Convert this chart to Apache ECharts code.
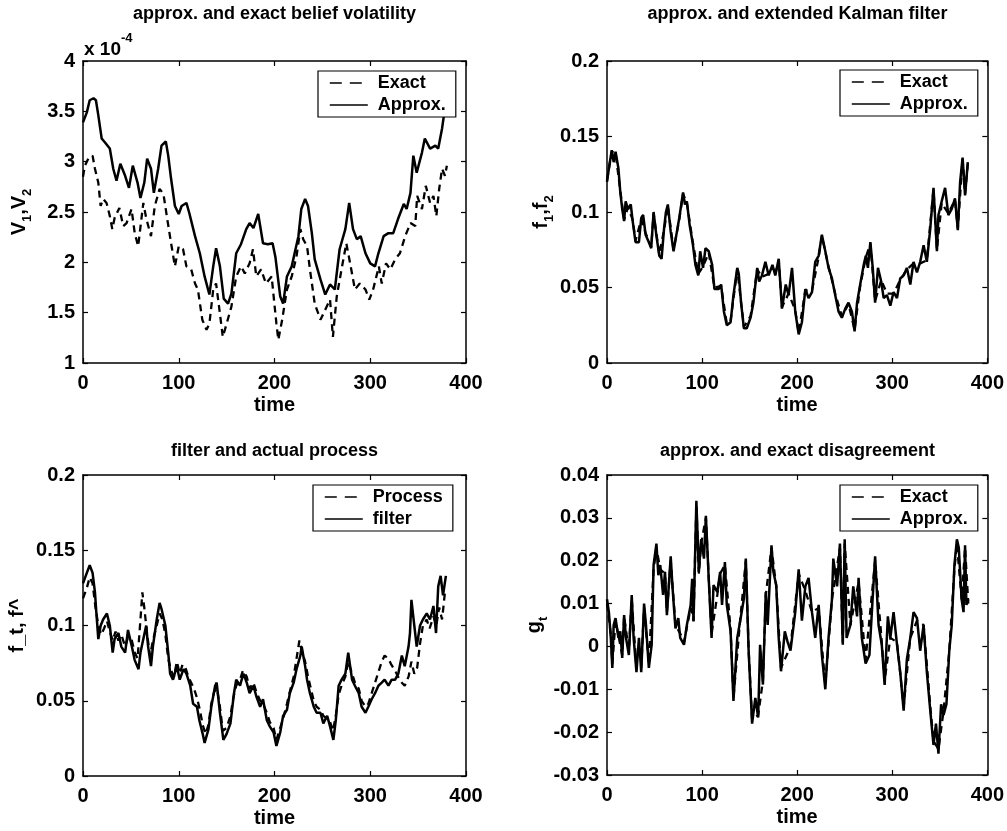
<!DOCTYPE html>
<html><head><meta charset="utf-8">
<script src="https://cdn.jsdelivr.net/npm/echarts/dist/echarts.min.js"></script>
<style>html,body{margin:0;padding:0;background:#fff}#c{width:1007px;height:831px}</style>
</head><body><div id="c"></div>
<script>
// ---------- DATA (time, value) ----------
const timeTicks = [0, 100, 200, 300, 400];
// Panel 1: belief volatility, values in units of 1e-4
const volApprox = [[0,3.39],[4,3.49],[7,3.61],[11,3.63],[13.5,3.61],[16,3.46],[19.5,3.23],[23,3.19],[28,3.13],[31.6,2.93],[35,2.81],[39,2.98],[44,2.86],[48,2.74],[52,2.96],[57,2.79],[60,2.64],[64,2.79],[67,3.03],[71,2.93],[74,2.69],[78.5,2.93],[82,3.16],[86.5,3.20],[89,3.06],[92,2.83],[96,2.56],[100,2.48],[103,2.56],[108,2.59],[111,2.49],[117,2.26],[122,2.09],[127,1.86],[132,1.68],[136,1.96],[139,2.14],[143,1.96],[147,1.64],[151.5,1.59],[155,1.69],[160,2.09],[165,2.18],[170.5,2.33],[174,2.39],[178,2.34],[183,2.48],[188,2.19],[193,2.18],[198,2.19],[201,2.05],[206,1.66],[209,1.59],[213,1.86],[218,1.96],[221,2.09],[225,2.26],[228,2.53],[232,2.63],[235,2.56],[239,2.29],[242,2.03],[248,1.83],[253,1.68],[258,1.78],[263,1.73],[268,2.13],[274,2.33],[278,2.59],[282,2.33],[286,2.23],[290,2.26],[295,2.09],[300,1.99],[305,1.96],[308.5,2.09],[314,2.26],[319,2.29],[324,2.29],[329,2.43],[335,2.58],[338,2.53],[342,2.69],[345,3.06],[348.5,2.89],[354,3.09],[357,3.23],[362.5,3.13],[368,3.16],[371,3.13],[375,3.33],[378,3.53],[380,3.60]];
const volExact = [[0,2.85],[2,2.96],[5.5,3.03],[10,3.06],[12.5,2.93],[16,2.79],[18.4,2.56],[21,2.63],[24.6,2.59],[28,2.46],[30.6,2.33],[33,2.44],[38,2.54],[42,2.36],[45.5,2.39],[50.7,2.53],[54,2.29],[57.6,2.16],[63,2.59],[66,2.44],[71,2.26],[75,2.56],[80,2.73],[84,2.68],[88,2.43],[92,2.19],[96,1.96],[100,2.16],[104.5,2.13],[108,1.96],[113,1.93],[117,1.79],[120,1.73],[124.6,1.43],[129,1.33],[132,1.39],[136,1.73],[139,1.79],[143,1.49],[146,1.26],[150,1.39],[155,1.56],[160,1.86],[165,1.96],[169,1.89],[174,1.99],[177.5,2.13],[181,1.86],[186,1.93],[191,1.79],[197,1.86],[202,1.39],[204,1.23],[208,1.43],[213,1.73],[218,1.86],[223,2.06],[227,2.33],[230,2.23],[234,2.16],[237,1.93],[242,1.59],[248,1.43],[253,1.53],[258,1.63],[261,1.26],[265,1.66],[270,1.93],[275,2.19],[279,1.99],[284,1.73],[289,1.79],[295,1.73],[299,1.63],[303,1.73],[309,1.96],[312,1.79],[316.5,1.99],[321,1.93],[326,2.03],[331,2.09],[336.5,2.26],[342,2.39],[347,2.36],[349,2.66],[354,2.53],[358,2.76],[362.5,2.59],[366,2.66],[369,2.46],[372,2.73],[375,2.93],[378,2.86],[380,2.96]];
// Panel 2: approx. and extended Kalman filter
const kalApprox = [[0,0.120],[2,0.129],[5,0.141],[7,0.133],[9,0.140],[12,0.129],[14,0.113],[16,0.102],[18,0.094],[19.6,0.107],[22,0.102],[25,0.105],[27,0.094],[30,0.080],[33.6,0.080],[36,0.096],[38,0.098],[40.6,0.085],[44,0.080],[46.5,0.076],[49,0.100],[51.8,0.085],[55,0.071],[57.4,0.069],[60,0.089],[62,0.100],[64,0.105],[67,0.087],[70,0.074],[73,0.085],[76,0.096],[80,0.113],[82,0.105],[84,0.107],[87,0.091],[90,0.080],[93,0.065],[96,0.058],[98,0.074],[101,0.063],[103.6,0.076],[107,0.074],[110.6,0.065],[113,0.049],[117.6,0.049],[120,0.052],[123,0.034],[126,0.025],[130,0.027],[133,0.045],[137,0.063],[138.6,0.059],[141,0.040],[144,0.023],[147,0.023],[151,0.030],[154,0.040],[158,0.063],[160,0.054],[163,0.058],[166.6,0.067],[170,0.058],[174,0.065],[177,0.058],[180.6,0.069],[184,0.036],[188,0.052],[191,0.045],[194.6,0.063],[198,0.034],[201.6,0.019],[205,0.027],[208.6,0.049],[212,0.043],[215.6,0.047],[219,0.067],[222.6,0.071],[226,0.085],[229.6,0.074],[233,0.063],[236.6,0.056],[240,0.045],[243.6,0.034],[247,0.030],[250.6,0.036],[254,0.040],[257.6,0.034],[260.4,0.021],[263,0.040],[266.3,0.052],[270,0.065],[272.2,0.071],[274.4,0.063],[277,0.080],[279.5,0.063],[282,0.040],[285,0.063],[288.4,0.054],[291,0.043],[294.4,0.045],[298,0.038],[301.4,0.047],[305,0.043],[308.4,0.056],[312,0.058],[315.4,0.063],[319,0.052],[322.4,0.067],[326,0.060],[329.4,0.067],[333,0.078],[336.4,0.067],[340,0.089],[343.4,0.116],[347,0.074],[348.6,0.098],[352,0.107],[355.6,0.116],[359,0.098],[362.6,0.102],[366,0.109],[369,0.088],[371.4,0.120],[374,0.136],[376.6,0.111],[379.5,0.133]];
const kalExact = [[0,0.121],[5,0.140],[9,0.139],[14,0.114],[18,0.095],[22,0.103],[27,0.095],[30,0.081],[36,0.095],[40.6,0.086],[46.5,0.077],[49,0.099],[55,0.072],[60,0.088],[64,0.104],[70,0.075],[76,0.095],[80,0.112],[84,0.106],[90,0.081],[96,0.059],[101,0.064],[107,0.073],[113,0.050],[120,0.051],[126,0.026],[130,0.028],[137,0.062],[144,0.024],[151,0.031],[158,0.062],[163,0.057],[170,0.059],[177,0.059],[180.6,0.068],[184,0.037],[191,0.046],[198,0.035],[201.6,0.020],[208.6,0.048],[215.6,0.048],[222.6,0.070],[226,0.084],[233,0.064],[240,0.046],[247,0.031],[254,0.039],[260.4,0.022],[266.3,0.051],[272.2,0.070],[277,0.079],[282,0.041],[288.4,0.055],[294.4,0.046],[301.4,0.046],[308.4,0.055],[315.4,0.062],[322.4,0.066],[329.4,0.066],[336.4,0.068],[343.4,0.115],[347,0.075],[352,0.106],[359,0.099],[366,0.108],[369,0.089],[374,0.135],[376.6,0.112],[379.5,0.132]];
// Panel 3: filter and actual process
const procFilter = [[0,0.128],[4,0.135],[7,0.140],[10,0.135],[12.5,0.122],[14,0.108],[16,0.091],[18.5,0.100],[21,0.104],[25,0.108],[28,0.100],[31,0.082],[33,0.091],[37,0.095],[40,0.086],[44,0.082],[47,0.097],[51,0.086],[54,0.077],[58,0.071],[60,0.082],[63,0.091],[66,0.100],[68,0.086],[71,0.073],[73,0.086],[77,0.104],[80,0.115],[82,0.111],[86,0.100],[89,0.082],[91,0.068],[94,0.064],[98,0.073],[101,0.064],[105,0.071],[108,0.068],[112,0.060],[115,0.048],[119,0.046],[121.5,0.037],[125,0.028],[127,0.022],[131,0.031],[134,0.046],[138,0.060],[139.6,0.062],[143,0.042],[146.6,0.024],[150,0.028],[154,0.035],[157.7,0.055],[160,0.064],[164,0.060],[167.5,0.068],[171,0.062],[174,0.055],[178,0.060],[181,0.053],[185,0.046],[188,0.051],[192,0.037],[195,0.033],[199,0.029],[202,0.020],[206,0.029],[209,0.040],[213,0.044],[216,0.055],[220,0.062],[223,0.071],[227,0.080],[228.4,0.086],[232,0.073],[234,0.064],[237,0.055],[241,0.046],[244,0.042],[248,0.042],[251,0.035],[255,0.040],[258,0.033],[261.5,0.024],[264,0.037],[267,0.060],[270,0.064],[274,0.068],[277,0.082],[281,0.064],[284,0.060],[288,0.055],[291,0.046],[295,0.042],[298,0.046],[301.5,0.051],[305,0.055],[308.5,0.060],[312,0.062],[315,0.064],[319,0.060],[322.4,0.064],[326,0.064],[329.3,0.068],[333,0.080],[336,0.073],[340,0.086],[341.5,0.095],[343,0.117],[346,0.100],[348.5,0.086],[352,0.100],[355,0.104],[359,0.108],[362.4,0.104],[366,0.113],[368.7,0.095],[371,0.126],[373.5,0.133],[376,0.120],[379,0.133]];
const procProcess = [[0,0.118],[4,0.125],[7,0.132],[10,0.128],[13,0.112],[16,0.100],[19,0.094],[22,0.098],[25,0.103],[28,0.096],[31,0.090],[34,0.096],[37,0.090],[40,0.094],[44,0.086],[47,0.092],[51,0.090],[54,0.082],[57,0.078],[60,0.104],[62,0.122],[64,0.112],[67,0.094],[70,0.080],[73,0.090],[77,0.100],[80,0.108],[83,0.104],[86,0.094],[89,0.078],[92,0.070],[95,0.066],[98,0.076],[101,0.068],[104,0.074],[107,0.072],[110,0.066],[113,0.062],[116,0.058],[119,0.052],[122,0.044],[125,0.034],[128,0.028],[131,0.034],[134,0.048],[137,0.056],[140,0.058],[143,0.046],[146,0.030],[150,0.032],[154,0.040],[157,0.052],[160,0.060],[164,0.064],[167,0.070],[171,0.066],[174,0.058],[178,0.062],[181,0.056],[185,0.050],[188,0.048],[192,0.042],[195,0.036],[199,0.032],[202,0.024],[206,0.032],[209,0.038],[213,0.048],[216,0.056],[220,0.066],[223,0.078],[226,0.090],[229,0.082],[232,0.076],[235,0.066],[238,0.058],[241,0.050],[244,0.046],[248,0.044],[251,0.040],[255,0.038],[258,0.036],[261,0.030],[264,0.040],[267,0.054],[270,0.060],[274,0.066],[277,0.076],[281,0.068],[284,0.062],[288,0.058],[291,0.050],[295,0.046],[298,0.048],[302,0.056],[305,0.062],[309,0.070],[312,0.076],[315,0.080],[319,0.078],[322,0.074],[326,0.070],[329,0.066],[333,0.062],[336,0.060],[340,0.066],[343,0.076],[346,0.068],[349,0.072],[352,0.088],[355,0.100],[359,0.104],[362,0.098],[366,0.106],[369,0.100],[372,0.112],[375,0.104],[378,0.122],[380,0.124]];
// Panel 4: approx. and exact disagreement
const disApprox = [[0,0.011],[2,0.008],[4,0.002],[5.6,-0.005],[7,0.005],[9,0.0066],[12,0.002],[14,0.0035],[16,-0.0027],[18,0.0073],[20,0.002],[23,-0.002],[26,0.012],[28,0.002],[31,-0.006],[33.6,0.002],[36,-0.006],[39,0.010],[41,0.005],[44,-0.005],[47,0.0004],[49,0.019],[52,0.024],[54,0.0166],[56,0.019],[59,0.012],[61,0.0174],[63,0.0073],[67,0.021],[69,0.0135],[72,0.0042],[75,0.0066],[77,0.002],[81,0.0004],[84,0.005],[88,0.0097],[89.6,0.0158],[91,0.0058],[94,0.034],[96.6,0.0174],[99,0.025],[102,0.0205],[104,0.0305],[107,0.0158],[110,0.002],[112,0.0143],[116,0.0127],[119,0.0174],[121,0.0097],[124,0.0197],[126,0.0097],[130,0.0035],[133,-0.0127],[137,0.002],[140,0.0058],[144,0.0112],[146,0.0205],[149,-0.0012],[152.6,-0.018],[156,-0.012],[159,-0.0166],[161,0.0004],[164,-0.0089],[167,0.0127],[169,0.005],[173,0.0236],[175,0.0174],[178,0.0143],[180.6,0.002],[183,-0.0058],[187,0.0035],[190,0.001],[193,-0.001],[198,0.008],[201.6,0.018],[205,0.006],[208.6,0.014],[212,0.016],[215.6,0.008],[219,0.002],[222.6,0.0097],[226,-0.002],[229.6,-0.010],[233,0.002],[236.6,0.011],[238,0.0205],[242,0.014],[245,0.024],[248,0.0004],[250,0.025],[252,0.002],[256,0.005],[259,0.014],[263,0.007],[264.6,0.016],[268,0.002],[272,-0.004],[276,-0.002],[279,0.0097],[282,0.021],[285.6,0.005],[289,0.0004],[292,-0.009],[295.4,0.007],[298,0.002],[301.4,0.008],[305,0.0004],[308.4,-0.006],[312,-0.015],[315.4,-0.003],[319,0.002],[322.4,0.008],[326,0.0066],[329.4,-0.001],[333,0.005],[336.4,-0.006],[340,-0.015],[343.4,-0.023],[346,-0.018],[348.6,-0.025],[351.4,-0.0135],[354,-0.016],[357,-0.0135],[360,-0.001],[362.6,0.005],[365.4,0.019],[368,0.025],[370,0.023],[373,0.011],[375,0.008],[376.6,0.0236],[378,0.0097],[380,0.011]];
const disExact = [[0,0.010],[4,0.003],[5.6,-0.004],[9,0.006],[16,-0.002],[18,0.007],[23,-0.001],[26,0.011],[31,-0.005],[36,-0.005],[39,0.009],[44,-0.004],[49,0.018],[52,0.023],[56,0.018],[61,0.017],[63,0.008],[67,0.020],[72,0.005],[77,0.003],[81,0.001],[88,0.009],[91,0.006],[94,0.033],[96.6,0.017],[99,0.024],[104,0.030],[107,0.016],[110,0.003],[116,0.012],[119,0.017],[124,0.019],[130,0.004],[133,-0.012],[140,0.006],[146,0.020],[149,-0.001],[152.6,-0.017],[159,-0.016],[164,-0.008],[167,0.012],[173,0.023],[178,0.014],[183,-0.005],[193,0.000],[201.6,0.017],[208.6,0.013],[215.6,0.008],[222.6,0.009],[229.6,-0.009],[236.6,0.011],[245,0.023],[248,0.001],[250,0.024],[256,0.005],[264.6,0.015],[272,-0.003],[282,0.020],[289,0.001],[292,-0.008],[298,0.002],[305,0.001],[312,-0.014],[319,0.002],[326,0.006],[333,0.005],[340,-0.014],[343.4,-0.022],[348.6,-0.024],[354,-0.015],[360,-0.001],[365.4,0.018],[368,0.024],[373,0.011],[376.6,0.023],[380,0.010]];

const panelTitles = ['approx. and exact belief volatility','approx. and extended Kalman filter','filter and actual process','approx. and exact disagreement'];
const yNames = ['{n|V}{s|1}{n|,V}{s|2}','{n|f}{s|1}{n|,f}{s|2}','{n|f_t, f^}','{n|g}{s|t}'];
const yRanges = [[1,4,0.5],[0,0.2,0.05],[0,0.2,0.05],[-0.03,0.04,0.01]];
const legendNames = [['Exact','Approx.'],['Exact','Approx.'],['Process','filter'],['Exact','Approx.']];
const panelSeries = [[volExact, volApprox],[kalExact, kalApprox],[procProcess, procFilter],[disExact, disApprox]];

// ---------- LAYOUT / STYLE ----------
const FONT = "'Liberation Sans', Arial, Helvetica, sans-serif";
const grids = [
  {left:83, top:61, width:383, height:302},
  {left:607, top:61, width:381, height:302},
  {left:83, top:475, width:383, height:301},
  {left:607, top:475, width:381, height:300}
];
const yNameGaps = [52, 54, 54, 58];
const legendPos = [{left:318, top:71},{left:840, top:70},{left:313, top:485},{left:840, top:485}];
const axisLine = {show:true, onZero:false, lineStyle:{color:'#000', width:1.5}};
const tick = {show:true, inside:true, length:5, lineStyle:{color:'#000', width:1.2}};
const lbl = {color:'#000', fontFamily:FONT, fontWeight:'bold', fontSize:20};
const noSymbol = {color:'rgba(0,0,0,0)', borderWidth:0, borderColor:'rgba(0,0,0,0)'};

const xAxis = [], yAxis = [], series = [], title = [], legend = [];
grids.forEach((g, i) => {
  xAxis.push({gridIndex:i, type:'value', position:'bottom', min:timeTicks[0], max:timeTicks[timeTicks.length-1], interval:100,
    axisLine, axisTick:tick, splitLine:{show:false}, axisLabel:Object.assign({margin:10}, lbl),
    name:'time', nameLocation:'middle', nameGap:32, nameTextStyle:Object.assign({}, lbl, {fontSize:20})});
  xAxis.push({gridIndex:i, type:'value', position:'top', min:timeTicks[0], max:timeTicks[timeTicks.length-1], interval:100,
    axisLine, axisTick:tick, splitLine:{show:false}, axisLabel:{show:false}});
  const r = yRanges[i];
  yAxis.push({gridIndex:i, type:'value', position:'left', min:r[0], max:r[1], interval:r[2],
    axisLine, axisTick:tick, splitLine:{show:false}, axisLabel:Object.assign({margin:8}, lbl),
    name:yNames[i], nameLocation:'middle', nameGap:yNameGaps[i],
    nameTextStyle:{color:'#000', rich:{
      n:{fontFamily:FONT, fontWeight:'bold', fontSize:20, color:'#000', lineHeight:22, verticalAlign:'top'},
      s:{fontFamily:FONT, fontWeight:'bold', fontSize:13, color:'#000', lineHeight:14, padding:[12,0,0,0], verticalAlign:'top'}
    }}});
  yAxis.push({gridIndex:i, type:'value', position:'right', min:r[0], max:r[1], interval:r[2],
    axisLine, axisTick:tick, splitLine:{show:false}, axisLabel:{show:false}});
  title.push({text:panelTitles[i], left:g.left + g.width/2, top:i < 2 ? 5 : 442, textAlign:'center', padding:0,
    textStyle:{color:'#000', fontFamily:FONT, fontWeight:'bold', fontSize:18}});
  const names = legendNames[i];
  legend.push({
    data:[{name:names[0], itemStyle:noSymbol, lineStyle:{type:[12,8], width:1.6}},
          {name:names[1], itemStyle:noSymbol, lineStyle:{type:'solid', width:1.6}}],
    orient:'vertical', left:legendPos[i].left, top:legendPos[i].top,
    backgroundColor:'#fff', borderColor:'#000', borderWidth:1.2, borderRadius:0, padding:[3,10,3,11],
    itemWidth:38, itemHeight:14, itemGap:4, itemStyle:noSymbol,
    textStyle:{color:'#000', fontFamily:FONT, fontWeight:'bold', fontSize:18, padding:[0,0,0,5]}});
  const data = panelSeries[i];
  series.push({name:names[0], type:'line', xAxisIndex:2*i, yAxisIndex:2*i, data:data[0], symbol:'none', silent:true, animation:false,
    lineStyle:{color:'#000', width:2.3, type:[7,5]}, itemStyle:{color:'#000'}});
  series.push({name:names[1], type:'line', xAxisIndex:2*i, yAxisIndex:2*i, data:data[1], symbol:'none', silent:true, animation:false,
    lineStyle:{color:'#000', width:2.5, type:'solid'}, itemStyle:{color:'#000'}});
});

const chart = echarts.init(document.getElementById('c'), null, {renderer:'canvas'});
chart.setOption({
  backgroundColor:'#fff', animation:false,
  grid: grids.map(g => Object.assign({containLabel:false}, g)),
  xAxis, yAxis, series, title, legend,
  graphic:[{type:'text', left:84, top:32, style:{
    text:'{b|x 10}{p|-4}', rich:{
      b:{fontFamily:FONT, fontWeight:'bold', fontSize:19, fill:'#000', lineHeight:24, padding:[8,0,0,0], verticalAlign:'top'},
      p:{fontFamily:FONT, fontWeight:'bold', fontSize:13, fill:'#000', lineHeight:14, verticalAlign:'top'}
    }}}]
});
</script></body></html>
